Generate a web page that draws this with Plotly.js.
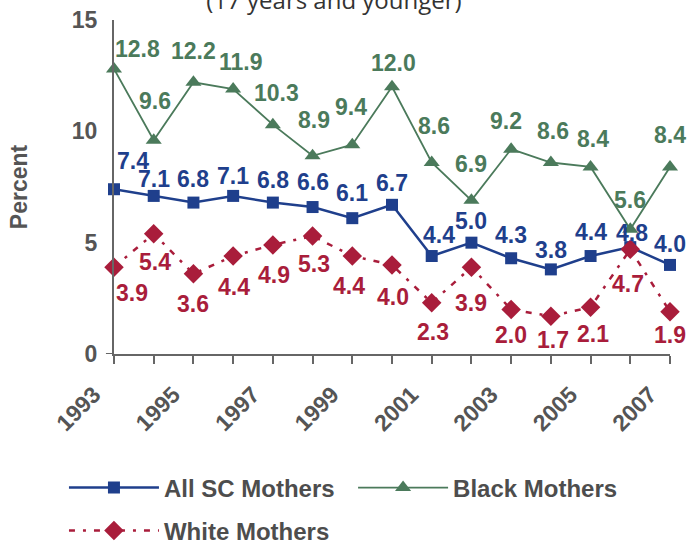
<!DOCTYPE html>
<html>
<head>
<meta charset="utf-8">
<script src="https://cdn.plot.ly/plotly-3.0.1.min.js"></script>
<style>html,body{margin:0;padding:0;background:#fff;}#chart{width:690px;height:541px;}</style>
</head>
<body>
<div id="chart"></div>
<script>
// ---- data ----
var years = [1993,1994,1995,1996,1997,1998,1999,2000,2001,2002,2003,2004,2005,2006,2007];
var yearTickText = ['1993','','1995','','1997','','1999','','2001','','2003','','2005','','2007'];
var allSC = [7.4,7.1,6.8,7.1,6.8,6.6,6.1,6.7,4.4,5.0,4.3,3.8,4.4,4.8,4.0];
var black = [12.8,9.6,12.2,11.9,10.3,8.9,9.4,12.0,8.6,6.9,9.2,8.6,8.4,5.6,8.4];
var white = [3.9,5.4,3.6,4.4,4.9,5.3,4.4,4.0,2.3,3.9,2.0,1.7,2.1,4.7,1.9];
var seriesNames = ['All SC Mothers','Black Mothers','White Mothers'];

// ---- label offsets (px, screen direction: +x right, +y down) ----
var allDx = [19,0,0,0,0,0,0,0,7,0,0,0,0,2,0];
var allDy = [-28,-17,-24,-20,-23,-25,-25,-22,-21,-22,-23,-19,-24,-14,-21];
var blackDx = [23,1,0,8,4,1,-1,1,2,0,-5,2,2,0,0];
var blackDy = [-20,-39,-31,-27,-32,-36,-38,-24,-37,-36,-28,-32,-28,-29,-32];
var whiteDx = [18,1,0,1,1,1,-3,1,1,0,0,2,2,-2,0];
var whiteDy = [26,28,30,31,30,28,30,32,29,36,26,24,27,35,23];

var BLUE = '#1f3f8c', GREEN = '#4b7a5b', RED = '#a91d3b', GREY = '#555555';
var FONT = 'Liberation Sans, Arial, sans-serif';

var traces = [
  {x: years, y: allSC, name: seriesNames[0], type: 'scatter', mode: 'lines+markers', cliponaxis: false,
   line: {color: BLUE, width: 2.5}, marker: {symbol: 'square', size: 12, color: BLUE}, legend: 'legend'},
  {x: years, y: black, name: seriesNames[1], type: 'scatter', mode: 'lines+markers', cliponaxis: false,
   line: {color: GREEN, width: 1.8}, marker: {symbol: 'triangle-up', size: 14, color: GREEN}, legend: 'legend2'},
  {x: years, y: white, name: seriesNames[2], type: 'scatter', mode: 'lines+markers', cliponaxis: false,
   line: {color: RED, width: 2.5, dash: '6px,8px,3px,8px'}, marker: {symbol: 'diamond', size: 15, color: RED}, legend: 'legend3'}
];

var annotations = [];
function addLabels(vals, dx, dy, color) {
  for (var i = 0; i < years.length; i++) {
    annotations.push({x: years[i], y: vals[i], xref: 'x', yref: 'y', text: vals[i].toFixed(1),
      showarrow: false, xshift: dx[i], yshift: -dy[i], xanchor: 'center', yanchor: 'middle',
      font: {family: FONT, size: 23, color: color, weight: 'bold'}});
  }
}
addLabels(black, blackDx, blackDy, GREEN);
addLabels(allSC, allDx, allDy, BLUE);
addLabels(white, whiteDx, whiteDy, RED);

var legendCommon = {orientation: 'h', xref: 'paper', yref: 'container', xanchor: 'left', yanchor: 'middle',
  font: {family: FONT, size: 24, color: '#4d4d4d', weight: 'bold'}, itemwidth: 90, bgcolor: 'rgba(0,0,0,0)',
  borderwidth: 0, tracegroupgap: 0, itemclick: false};

var layout = {
  width: 690, height: 541,
  margin: {l: 114, r: 20, t: 20, b: 187},
  paper_bgcolor: '#ffffff', plot_bgcolor: '#ffffff',
  showlegend: true,
  title: {text: '(17 years and younger)', x: 0.484, xanchor: 'center', xref: 'container', yref: 'container', y: 0.998, yanchor: 'middle',
    font: {family: 'Open Sans, sans-serif', size: 24, color: '#333333'}},
  xaxis: {range: [1993, 2007], tickvals: years, ticktext: yearTickText, tickangle: -45,
    ticks: 'outside', ticklen: 8, tickwidth: 2, tickcolor: '#666666', ticklabelshift: -20, ticklabelstandoff: 8,
    showline: true, linecolor: '#666666', linewidth: 2, showgrid: false, zeroline: false,
    tickfont: {family: FONT, size: 23, color: GREY, weight: 'bold'}, fixedrange: true},
  yaxis: {range: [0, 15], tickvals: [0,5,10,15], ticks: '', showline: true, linecolor: '#666666', linewidth: 2,
    showgrid: false, zeroline: false, ticklabelstandoff: 10,
    tickfont: {family: FONT, size: 23, color: GREY, weight: 'bold'},
    title: {text: 'Percent', standoff: 38, font: {family: FONT, size: 23, color: GREY, weight: 'bold'}}, fixedrange: true},
  shapes: [{type: 'line', xref: 'paper', yref: 'y', x0: -0.0145, x1: 0, y0: 0, y1: 0, line: {color: '#666666', width: 2}}],
  annotations: annotations,
  legend: Object.assign({}, legendCommon, {x: -0.09, y: 1 - 488/541}),
  legend2: Object.assign({}, legendCommon, {x: 0.43, y: 1 - 488/541}),
  legend3: Object.assign({}, legendCommon, {x: -0.09, y: 1 - 531/541})
};

Plotly.newPlot('chart', traces, layout, {displayModeBar: false, staticPlot: true});
</script>
</body>
</html>
